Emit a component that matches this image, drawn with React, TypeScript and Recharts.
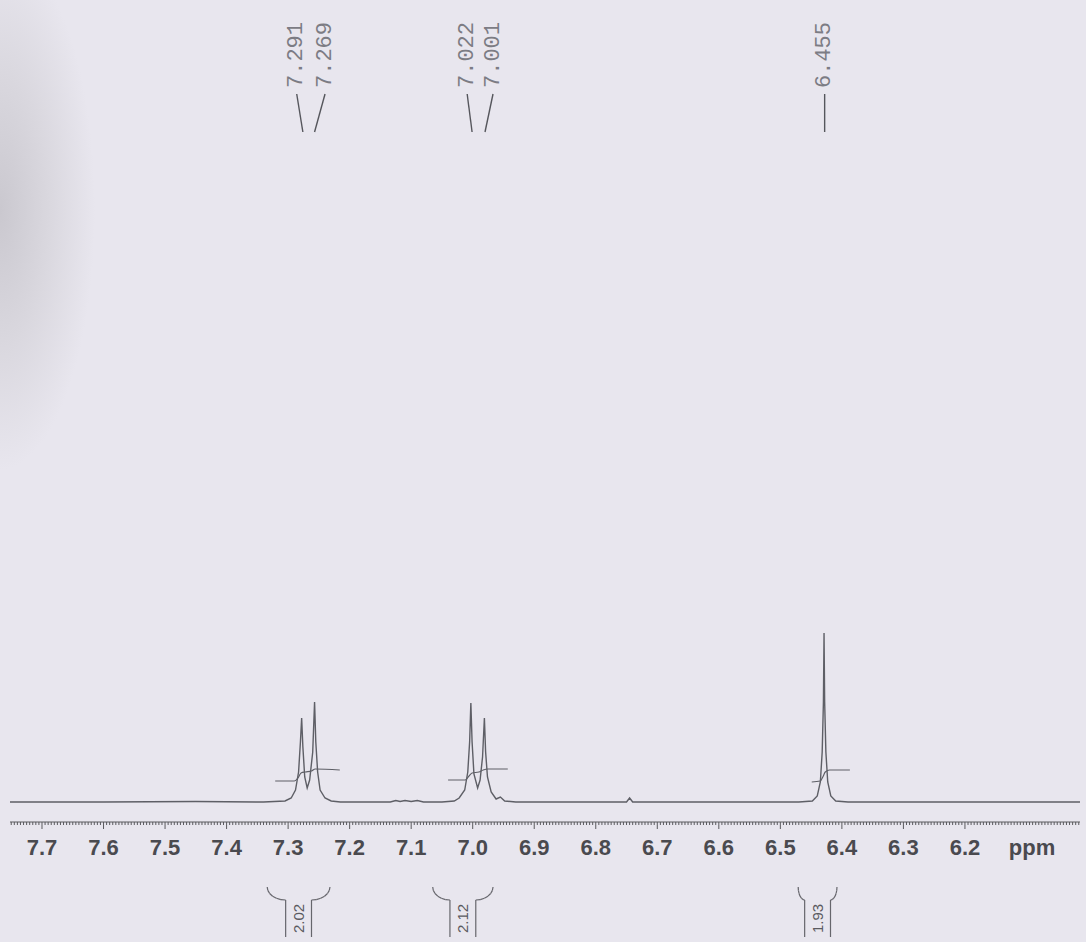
import React from 'react';
import { ComposedChart, Line, XAxis, YAxis, ReferenceLine, ReferenceDot } from 'recharts';

// 1H NMR trace: [ppm, height above baseline]
const spectrum: [number, number][] = [
  [7.752, 0], [7.6, 0], [7.45, 0.5], [7.34, 0],
  [7.305, 1], [7.295, 4], [7.288, 12], [7.283, 30], [7.28, 60], [7.278, 84], [7.276, 55],
  [7.273, 25], [7.269, 14], [7.265, 22], [7.26, 50], [7.257, 100], [7.255, 60], [7.252, 30],
  [7.248, 12], [7.24, 4], [7.23, 1], [7.215, 0],
  [7.134, 0], [7.125, 1.5], [7.118, 0.5], [7.11, 1.5], [7.1, 0.5], [7.09, 1.5], [7.08, 0],
  [7.05, 0], [7.03, 1], [7.022, 4], [7.013, 12], [7.008, 30], [7.005, 60], [7.003, 99],
  [7.001, 60], [6.998, 28], [6.992, 14], [6.988, 22], [6.984, 45], [6.981, 84], [6.979, 50],
  [6.976, 25], [6.97, 10], [6.962, 3], [6.955, 5], [6.948, 1], [6.93, 0],
  [6.75, 0], [6.745, 4], [6.74, 0],
  [6.47, 0], [6.448, 1], [6.44, 6], [6.435, 20], [6.432, 50], [6.43, 100], [6.429, 169],
  [6.428, 100], [6.426, 50], [6.423, 20], [6.418, 6], [6.41, 1], [6.39, 0],
  [6.2, 0], [6.013, 0],
];

// integral traces
const integral1: [number, number][] = [[7.321, 21], [7.29, 21], [7.284, 24], [7.279, 29], [7.272, 30], [7.262, 31], [7.256, 33], [7.216, 32]];
const integral2: [number, number][] = [[7.04, 22], [7.012, 22], [7.006, 26], [7.001, 29], [6.99, 30], [6.983, 32], [6.975, 33], [6.943, 33]];
const integral3: [number, number][] = [[6.449, 20], [6.435, 21], [6.431, 25], [6.427, 30], [6.42, 32], [6.387, 32]];

// peak picking labels
const peakLabels = ['7.291', '7.269', '7.022', '7.001', '6.455'];
const peakLabelPpm = [7.286, 7.24, 7.009, 6.967, 6.428];
const peakTipPpm = [7.276, 7.257, 7.001, 6.98, 6.428];

// integration values and ranges
const integralValues = ['2.02', '2.12', '1.93'];
const integralRanges: [number, number][] = [[7.334, 7.232], [7.065, 6.967], [6.471, 6.408]];

const majorTicks = [7.7, 7.6, 7.5, 7.4, 7.3, 7.2, 7.1, 7.0, 6.9, 6.8, 6.7, 6.6, 6.5, 6.4, 6.3, 6.2];

const X_DOMAIN: [number, number] = [6.013, 7.752];
const Y_DOMAIN: [number, number] = [-20, 802];

const minorTicks: number[] = [];
for (let i = 1203; i <= 1550; i++) minorTicks.push(i / 200);

const toPts = (arr: [number, number][]) => arr.map(([ppm, v]) => ({ ppm, v }));

const TRACE = '#5e5f66';
const LABEL_TOP = 708;
const LABEL_BOTTOM = 670;
const LABEL_MID = 747;
const BRACE_TOP = -85;
const BOX_TOP = -98;
const BOX_BOTTOM = -135;
const BOX_MID = -116.5;
const BOX_HALF = 0.021;

function braceSegments(from: number, to: number) {
  const mid = (from + to) / 2;
  const side = (outer: number, inner: number) => {
    const pts: { x: number; y: number }[] = [];
    for (let i = 0; i <= 6; i++) {
      const t = (i / 6) * (Math.PI / 2);
      pts.push({ x: outer + (inner - outer) * (1 - Math.cos(t)), y: BRACE_TOP + (BOX_TOP - BRACE_TOP) * Math.sin(t) });
    }
    pts.push({ x: inner, y: BOX_BOTTOM });
    return pts;
  };
  const segs: [{ x: number; y: number }, { x: number; y: number }][] = [];
  [side(from, mid + BOX_HALF), side(to, mid - BOX_HALF)].forEach((pts) => {
    for (let i = 0; i < pts.length - 1; i++) segs.push([pts[i], pts[i + 1]]);
  });
  return segs;
}

const PpmTick = (props: any) => {
  const { x, y, payload } = props;
  const v = payload.value as number;
  const major = majorTicks.some((m) => Math.abs(m - v) < 1e-6);
  return (
    <g>
      <line x1={x} y1={y} x2={x} y2={y + (major ? 7 : 3)} stroke="#5a5a5e" strokeWidth={1} />
      {major && (
        <text x={x} y={y + 33} textAnchor="middle" fontFamily="Liberation Sans, Arial, sans-serif" fontSize={22} fontWeight={700} fill="#4a4a4f">
          {v.toFixed(1)}
        </text>
      )}
    </g>
  );
};

const rotatedText = (text: string, size: number, family: string, fill: string) => (p: any) => (
  <text
    x={p.cx}
    y={p.cy}
    transform={`rotate(-90 ${p.cx} ${p.cy})`}
    textAnchor="middle"
    dominantBaseline="central"
    fontFamily={family}
    fontSize={size}
    fill={fill}
  >
    {text}
  </text>
);

export default function App() {
  return (
    <div
      style={{
        position: 'absolute',
        left: 0,
        top: 0,
        width: 1086,
        height: 942,
        background: 'radial-gradient(ellipse 95px 260px at 0px 210px, #cac8cf 0%, #d9d7de 50%, #e8e6ee 100%), #e8e6ee',
      }}
    >
      <ComposedChart width={1086} height={942} margin={{ top: 0, right: 6, bottom: 90, left: 10 }}>
        <XAxis
          type="number"
          dataKey="ppm"
          domain={X_DOMAIN}
          reversed
          allowDataOverflow
          ticks={minorTicks}
          interval={0}
          tick={(p: any) => <PpmTick {...p} />}
          tickLine={false}
          tickSize={0}
          tickMargin={0}
          height={30}
          axisLine={{ stroke: '#5a5a5e', strokeWidth: 1.2 }}
        />
        <YAxis type="number" hide domain={Y_DOMAIN} ticks={Y_DOMAIN} allowDataOverflow />

        <Line data={toPts(spectrum)} dataKey="v" type="linear" stroke={TRACE} strokeWidth={1.4} dot={false} isAnimationActive={false} />
        {[integral1, integral2, integral3].map((d, i) => (
          <Line key={`int${i}`} data={toPts(d)} dataKey="v" type="monotone" stroke={TRACE} strokeWidth={1.2} dot={false} isAnimationActive={false} />
        ))}

        {peakLabels.map((t, i) => (
          <ReferenceLine
            key={`pc${i}`}
            segment={[{ x: peakLabelPpm[i], y: LABEL_TOP }, { x: peakTipPpm[i], y: LABEL_BOTTOM }]}
            stroke="#55565c"
            strokeWidth={1.4}
            ifOverflow="visible"
          />
        ))}
        {peakLabels.map((t, i) => (
          <ReferenceDot
            key={`pl${i}`}
            x={peakLabelPpm[i]}
            y={LABEL_MID}
            ifOverflow="visible"
            shape={rotatedText(t, 22, 'Liberation Mono, Courier New, monospace', '#7c7c84')}
          />
        ))}

        {integralRanges.map(([a, b], i) =>
          braceSegments(a, b).map((s, j) => (
            <ReferenceLine key={`br${i}-${j}`} segment={s} stroke="#66666c" strokeWidth={1.2} ifOverflow="visible" />
          ))
        )}
        {integralValues.map((t, i) => (
          <ReferenceDot
            key={`iv${i}`}
            x={(integralRanges[i][0] + integralRanges[i][1]) / 2}
            y={BOX_MID}
            ifOverflow="visible"
            shape={rotatedText(t, 15, 'Liberation Sans, Arial, sans-serif', '#5a5a60')}
          />
        ))}

        <ReferenceDot
          x={6.091}
          y={Y_DOMAIN[0]}
          ifOverflow="visible"
          shape={(p: any) => (
            <text x={p.cx} y={p.cy + 33} textAnchor="middle" fontFamily="Liberation Sans, Arial, sans-serif" fontSize={22} fontWeight={700} fill="#4a4a4f">
              ppm
            </text>
          )}
        />
      </ComposedChart>
    </div>
  );
}
